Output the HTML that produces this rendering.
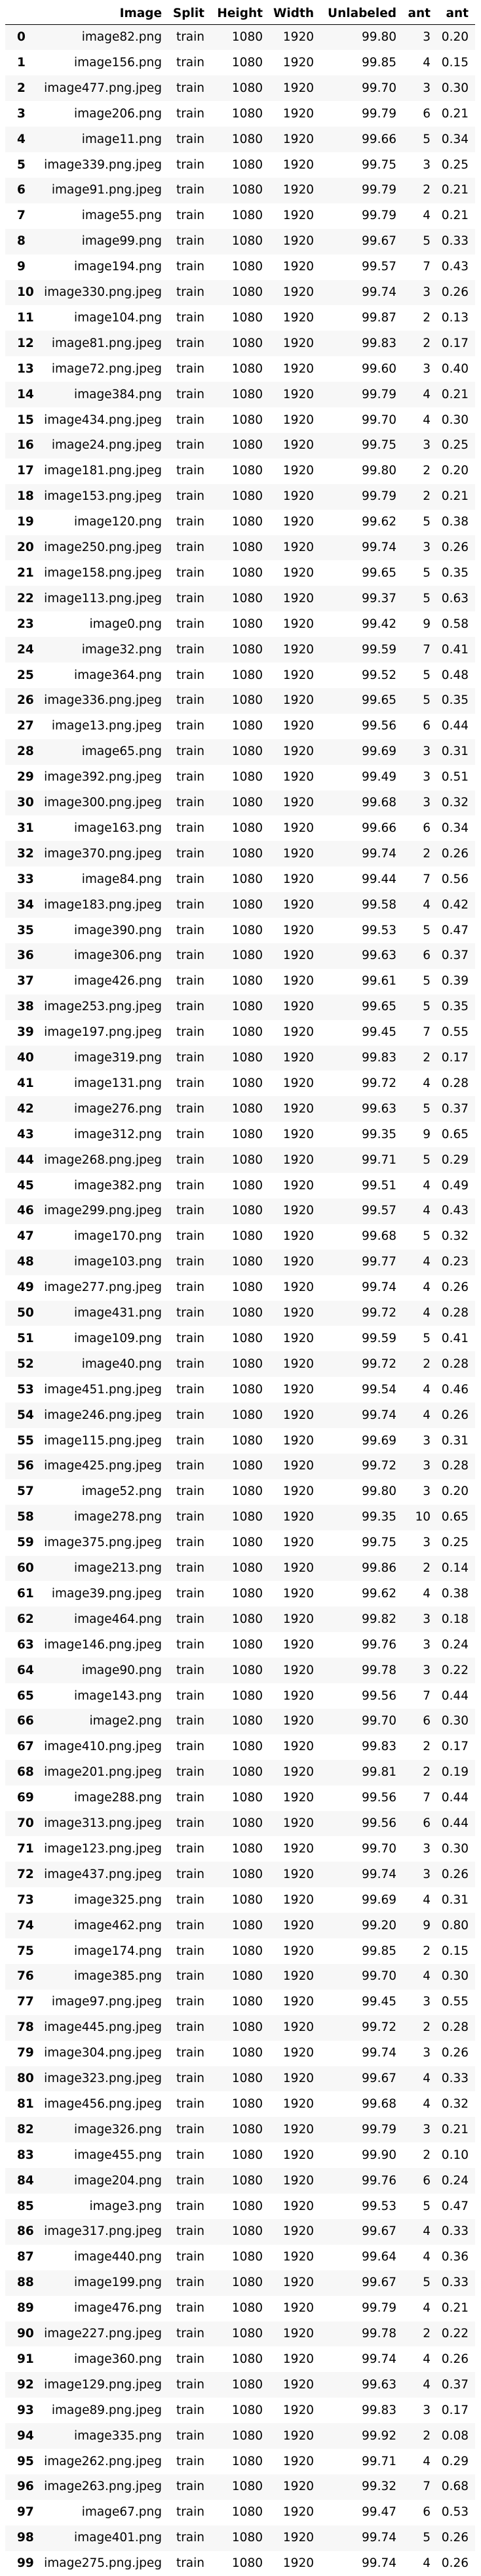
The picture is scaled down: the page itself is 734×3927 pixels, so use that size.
<!DOCTYPE html>
<html><head><meta charset="utf-8">
<style>
html,body{margin:0;padding:0;background:#fff;}
body{width:734px;height:3927px;position:relative;overflow:hidden;font-family:"DejaVu Sans","Liberation Sans",sans-serif;color:#000;}
.c{position:absolute;white-space:nowrap;font-size:18.5px;line-height:24px;height:24px;text-align:right;}
.h{font-weight:bold;}
.row{position:absolute;left:8px;width:717px;}
#hline{position:absolute;left:8px;width:717px;top:37px;height:3px;background:#000;}
</style></head>
<body>
<div id="hline"></div>
<script>
const images=["image82.png","image156.png","image477.png.jpeg","image206.png","image11.png","image339.png.jpeg","image91.png.jpeg","image55.png","image99.png","image194.png","image330.png.jpeg","image104.png","image81.png.jpeg","image72.png.jpeg","image384.png","image434.png.jpeg","image24.png.jpeg","image181.png.jpeg","image153.png.jpeg","image120.png","image250.png.jpeg","image158.png.jpeg","image113.png.jpeg","image0.png","image32.png","image364.png","image336.png.jpeg","image13.png.jpeg","image65.png","image392.png.jpeg","image300.png.jpeg","image163.png","image370.png.jpeg","image84.png","image183.png.jpeg","image390.png","image306.png","image426.png","image253.png.jpeg","image197.png.jpeg","image319.png","image131.png","image276.png","image312.png","image268.png.jpeg","image382.png","image299.png.jpeg","image170.png","image103.png","image277.png.jpeg","image431.png","image109.png","image40.png","image451.png.jpeg","image246.png.jpeg","image115.png.jpeg","image425.png.jpeg","image52.png","image278.png","image375.png.jpeg","image213.png","image39.png.jpeg","image464.png","image146.png.jpeg","image90.png","image143.png","image2.png","image410.png.jpeg","image201.png.jpeg","image288.png","image313.png.jpeg","image123.png.jpeg","image437.png.jpeg","image325.png","image462.png","image174.png","image385.png","image97.png.jpeg","image445.png.jpeg","image304.png.jpeg","image323.png.jpeg","image456.png.jpeg","image326.png","image455.png","image204.png","image3.png","image317.png.jpeg","image440.png","image199.png","image476.png","image227.png.jpeg","image360.png","image129.png.jpeg","image89.png.jpeg","image335.png","image262.png.jpeg","image263.png.jpeg","image67.png","image401.png","image275.png.jpeg"];
const unlabeled=["99.80","99.85","99.70","99.79","99.66","99.75","99.79","99.79","99.67","99.57","99.74","99.87","99.83","99.60","99.79","99.70","99.75","99.80","99.79","99.62","99.74","99.65","99.37","99.42","99.59","99.52","99.65","99.56","99.69","99.49","99.68","99.66","99.74","99.44","99.58","99.53","99.63","99.61","99.65","99.45","99.83","99.72","99.63","99.35","99.71","99.51","99.57","99.68","99.77","99.74","99.72","99.59","99.72","99.54","99.74","99.69","99.72","99.80","99.35","99.75","99.86","99.62","99.82","99.76","99.78","99.56","99.70","99.83","99.81","99.56","99.56","99.70","99.74","99.69","99.20","99.85","99.70","99.45","99.72","99.74","99.67","99.68","99.79","99.90","99.76","99.53","99.67","99.64","99.67","99.79","99.78","99.74","99.63","99.83","99.92","99.71","99.32","99.47","99.74","99.74"];
const antCount=[3,4,3,6,5,3,2,4,5,7,3,2,2,3,4,4,3,2,2,5,3,5,5,9,7,5,5,6,3,3,3,6,2,7,4,5,6,5,5,7,2,4,5,9,5,4,4,5,4,4,4,5,2,4,4,3,3,3,10,3,2,4,3,3,3,7,6,2,2,7,6,3,3,4,9,2,4,3,2,3,4,4,3,2,6,5,4,4,5,4,2,4,4,3,2,4,7,6,5,4];
const antPct=["0.20","0.15","0.30","0.21","0.34","0.25","0.21","0.21","0.33","0.43","0.26","0.13","0.17","0.40","0.21","0.30","0.25","0.20","0.21","0.38","0.26","0.35","0.63","0.58","0.41","0.48","0.35","0.44","0.31","0.51","0.32","0.34","0.26","0.56","0.42","0.47","0.37","0.39","0.35","0.55","0.17","0.28","0.37","0.65","0.29","0.49","0.43","0.32","0.23","0.26","0.28","0.41","0.28","0.46","0.26","0.31","0.28","0.20","0.65","0.25","0.14","0.38","0.18","0.24","0.22","0.44","0.30","0.17","0.19","0.44","0.44","0.30","0.26","0.31","0.80","0.15","0.30","0.55","0.28","0.26","0.33","0.32","0.21","0.10","0.24","0.47","0.33","0.36","0.33","0.21","0.22","0.26","0.37","0.17","0.08","0.29","0.68","0.53","0.26","0.26"];
const headers=["Image","Split","Height","Width","Unlabeled","ant","ant"];
const rights=[247,312,401,479,605,657,715];
const W=734, top0=57, pitch=38.9;
function cell(text,right,cy,bold,name){
  const d=document.createElement('div');
  d.className='c'+(bold?' h':'');
  d.textContent=text;
  d.style.right=(W-right)+'px';
  d.style.top=(cy-12)+'px';
  
  
  document.body.appendChild(d);
}
headers.forEach((h,j)=>cell(h,rights[j],21,true,'header-'+h.toLowerCase()));
for(let i=0;i<images.length;i++){
  const cy=top0+pitch*i;
  if(i%2===0){
    const r=document.createElement('div');
    r.className='row';
    r.style.top=(cy-pitch/2)+'px';
    r.style.height=pitch+'px';
    r.style.background='#f7f7f7';
    
    
    document.body.appendChild(r);
  }
  const ix=document.createElement('div');
  ix.className='c h';
  ix.textContent=String(i);
  ix.style.left='26px';
  ix.style.textAlign='left';
  ix.style.top=(cy-12)+'px';
  
  
  document.body.appendChild(ix);
  cell(images[i],rights[0],cy,false,'image-cell');
  cell('train',rights[1],cy,false,'split-cell');
  cell('1080',rights[2],cy,false,'height-cell');
  cell('1920',rights[3],cy,false,'width-cell');
  cell(unlabeled[i],rights[4],cy,false,'unlabeled-cell');
  cell(String(antCount[i]),rights[5],cy,false,'ant-count-cell');
  cell(antPct[i],rights[6],cy,false,'ant-percent-cell');
}
</script>
</body></html>
